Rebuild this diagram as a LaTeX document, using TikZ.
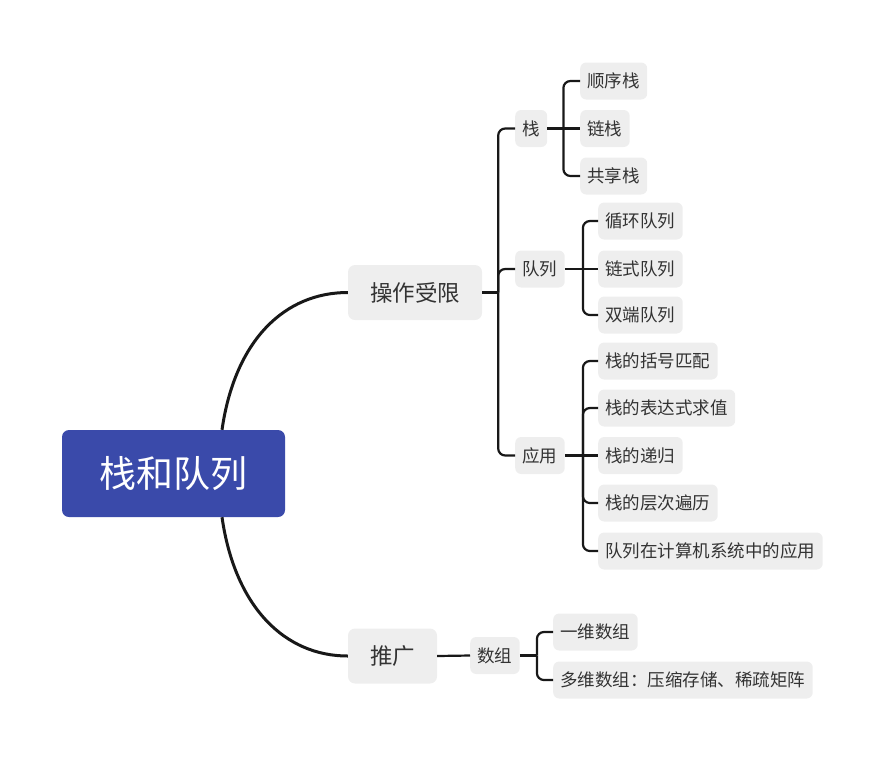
\documentclass[tikz,border=0pt]{standalone}
\usepackage{fontspec}
\setmainfont{Noto Sans CJK SC}
\definecolor{rootblue}{RGB}{58,74,170}
\definecolor{boxgray}{RGB}{238,238,238}
\definecolor{txt}{RGB}{51,51,51}
\definecolor{ln}{RGB}{24,24,24}
\begin{document}
\begin{tikzpicture}[x=1pt,y=-1pt,
  rootbox/.style={fill=rootblue,text=white,rounded corners=7,minimum width=223,minimum height=87,inner sep=0,font=\fontsize{37}{40}\selectfont},
  midbox/.style={fill=boxgray,text=txt,rounded corners=7,minimum height=55,inner xsep=22,inner ysep=0,font=\fontsize{22.5}{26}\selectfont},
  leafbox/.style={fill=boxgray,text=txt,rounded corners=6,minimum height=37,inner xsep=7.25,inner ysep=0,anchor=west,font=\fontsize{17.5}{20}\selectfont},
  trunk/.style={draw=ln,line width=3},
  br/.style={draw=ln,line width=2.2},
  brr/.style={draw=ln,line width=2.2,rounded corners=7}]
\useasboundingbox (0,0) rectangle (885,761);
\node[rootbox] (root) at (173.5,473.5) {栈和队列};
\node[midbox] (op) at (415,292.5) {操作受限};
\node[midbox] (tg) at (392.5,656) {推广};
\node[leafbox] (zhan) at (515,128.5) {栈};
\node[leafbox] (dl) at (515,269) {队列};
\node[leafbox] (yy) at (515,455.5) {应用};
\node[leafbox] (sxz) at (580,81) {顺序栈};
\node[leafbox] (lz) at (580,128.5) {链栈};
\node[leafbox] (gxz) at (580,176) {共享栈};
\node[leafbox] (xh) at (598,221) {循环队列};
\node[leafbox] (ls) at (598,269) {链式队列};
\node[leafbox] (sd) at (598,315) {双端队列};
\node[leafbox] (a1) at (598,361) {栈的括号匹配};
\node[leafbox] (a2) at (598,408) {栈的表达式求值};
\node[leafbox] (a3) at (598,455.5) {栈的递归};
\node[leafbox] (a4) at (598,503) {栈的层次遍历};
\node[leafbox] (a5) at (598,551) {队列在计算机系统中的应用};
\node[leafbox] (sz) at (470,655.5) {数组};
\node[leafbox] (yw) at (553,632) {一维数组};
\node[leafbox] (dw) at (553,680) {多维数组：压缩存储、稀疏矩阵};
% trunk curves
\draw[trunk] ([xshift=48.5]root.north) .. controls +(13,-90) and +(-63,0) .. (op.west);
\draw[trunk] ([xshift=48.5]root.south) .. controls +(13,90) and +(-63,0) .. (tg.west);
% op spine
\draw[br] (op.east) -- ++(16,0) coordinate (opj);
\draw[brr] (opj) |- (zhan.west);
\draw[brr] (opj) |- (dl.west);
\draw[brr] (opj) |- (yy.west);
% stack
\draw[br] (zhan.east) -- ++(16,0) coordinate (zj);
\draw[brr] (zj) |- (sxz.west);
\draw[br] (zj) -- (lz.west);
\draw[brr] (zj) |- (gxz.west);
% queue
\draw[br] (dl.east) -- ++(18,0) coordinate (dj);
\draw[brr] (dj) |- (xh.west);
\draw[br] (dj) -- (ls.west);
\draw[brr] (dj) |- (sd.west);
% application
\draw[br] (yy.east) -- ++(18,0) coordinate (yj);
\draw[brr] (yj) |- (a1.west);
\draw[brr] (yj) |- (a2.west);
\draw[br] (yj) -- (a3.west);
\draw[brr] (yj) |- (a4.west);
\draw[brr] (yj) |- (a5.west);
% array
\draw[br] (tg.east) -- (sz.west);
\draw[br] (sz.east) -- ++(17,0) coordinate (sj);
\draw[brr] (sj) |- (yw.west);
\draw[brr] (sj) |- (dw.west);
\end{tikzpicture}
\end{document}
